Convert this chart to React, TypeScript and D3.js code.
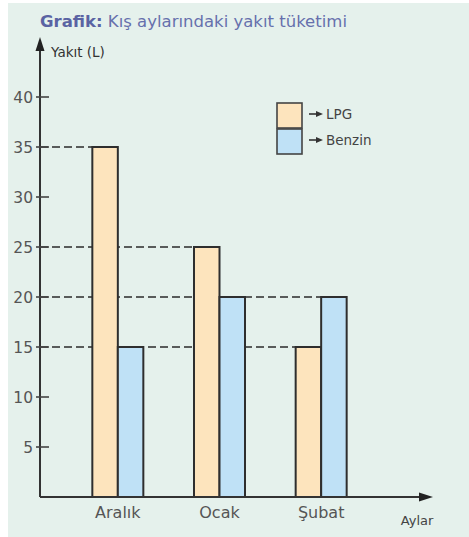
import { scaleBand, scaleLinear } from "d3";

const months = ["Aralık", "Ocak", "Şubat"];
const seriesNames = ["LPG", "Benzin"];
const lpgValues = [35, 25, 15];
const benzinValues = [15, 20, 20];
const yTicks = [5, 10, 15, 20, 25, 30, 35, 40];
// dashed guide lines: value, month and series of the bar they run to
const guideValues = [35, 25, 20, 15];
const guideMonths = ["Aralık", "Ocak", "Şubat", "Şubat"];
const guideSeries = ["LPG", "LPG", "Benzin", "LPG"];

const colors: Record<string, string> = { LPG: "#fde4bd", Benzin: "#bfe1f6" };
const font = "'DejaVu Sans', 'Liberation Sans', sans-serif";

export default function App() {
  const width = 469;
  const height = 537;
  const axisX = 40;

  const y = scaleLinear().domain([0, 40]).range([497, 97]);
  const x = scaleBand<string>().domain(months).range([67, 372]).padding(0);
  const sub = scaleBand<string>().domain(seriesNames).range([-25.5, 25.5]).padding(0);

  const values: Record<string, number[]> = { LPG: lpgValues, Benzin: benzinValues };
  const center = (m: string) => (x(m) ?? 0) + x.bandwidth() / 2;

  return (
    <svg
      width={width}
      height={height}
      style={{ position: "absolute", left: 0, top: 0 }}
      fontFamily={font}
    >
      <rect x={0} y={0} width={width} height={height} fill="#ffffff" />
      <rect x={8} y={3} width={width - 8} height={height - 3} fill="#e5f1ec" />

      <text x={40} y={27} fontSize={16.5} fill="#6670ad">
        <tspan fontWeight="bold" fill="#5a63a3">Grafik:</tspan> Kış aylarındaki yakıt tüketimi
      </text>

      {/* dashed guides */}
      {guideValues.map((v, i) => (
        <line
          key={"g" + i}
          x1={axisX}
          x2={center(guideMonths[i]) + (sub(guideSeries[i]) ?? 0)}
          y1={y(v)}
          y2={y(v)}
          stroke="#2a2a2a"
          strokeWidth={1.7}
          strokeDasharray="8,4"
        />
      ))}

      {/* bars */}
      {months.map((m, i) =>
        seriesNames.map((s) => (
          <rect
            key={m + s}
            x={center(m) + (sub(s) ?? 0)}
            y={y(values[s][i])}
            width={sub.bandwidth()}
            height={y(0) - y(values[s][i])}
            fill={colors[s]}
            stroke="#2e2e2e"
            strokeWidth={2}
          />
        ))
      )}

      {/* y axis */}
      <line x1={axisX} x2={axisX} y1={y(0)} y2={48} stroke="#333" strokeWidth={2} />
      <path d={`M${axisX},37 L${axisX - 4.5},51 L${axisX + 4.5},51 Z`} fill="#222" />
      <text x={51} y={57} fontSize={13.5} fill="#333">
        Yakıt (L)
      </text>
      {yTicks.map((t) => (
        <g key={t}>
          <line x1={36} x2={49} y1={y(t)} y2={y(t)} stroke="#444" strokeWidth={1.6} />
          <text x={33} y={y(t) + 5.5} fontSize={15.5} fill="#555" textAnchor="end">
            {t}
          </text>
        </g>
      ))}

      {/* x axis */}
      <line x1={axisX} x2={422} y1={y(0)} y2={y(0)} stroke="#333" strokeWidth={2} />
      <path d={`M433,${y(0)} L419,${y(0) - 4.5} L419,${y(0) + 4.5} Z`} fill="#222" />
      {months.map((m) => (
        <text key={m} x={center(m)} y={518} fontSize={16} fill="#555" textAnchor="middle">
          {m}
        </text>
      ))}
      <text x={417} y={525} fontSize={13} fill="#444" textAnchor="middle">
        Aylar
      </text>

      {/* legend */}
      {seriesNames.map((s, i) => {
        const ly = 103 + i * 26;
        return (
          <g key={s}>
            <rect x={277} y={ly} width={25} height={25} fill={colors[s]} stroke="#444" strokeWidth={1.6} />
            <line x1={309} x2={318} y1={ly + 11} y2={ly + 11} stroke="#333" strokeWidth={1.6} />
            <path d={`M323,${ly + 11} L316,${ly + 8} L316,${ly + 14} Z`} fill="#333" />
            <text x={326} y={ly + 16} fontSize={13.5} fill="#444">
              {s}
            </text>
          </g>
        );
      })}
    </svg>
  );
}
